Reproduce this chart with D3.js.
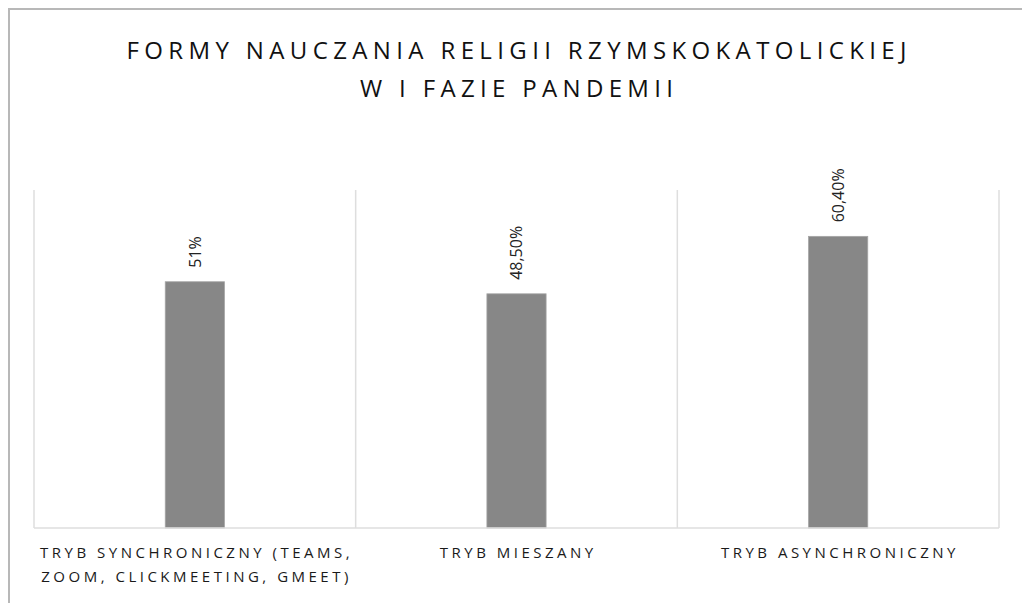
<!DOCTYPE html>
<html>
<head>
<meta charset="utf-8">
<script src="https://cdn.jsdelivr.net/npm/d3@7"></script>
<style>
  body { margin: 0; background: #fff; }
  svg { display: block; font-family: "Open Sans", sans-serif; }
</style>
</head>
<body>
<svg id="chart" width="1022" height="603"></svg>
<script>
// data
var categories = ["sync", "mixed", "async"];
var categoryLines = [
	["TRYB SYNCHRONICZNY (TEAMS,", "ZOOM, CLICKMEETING, GMEET)"],
	["TRYB MIESZANY"],
	["TRYB ASYNCHRONICZNY"]
];
var values = [51, 48.5, 60.4];
var valueLabels = ["51%", "48,50%", "60,40%"];
var titleLines = ["FORMY NAUCZANIA RELIGII RZYMSKOKATOLICKIEJ", "W I FAZIE PANDEMII"];

var svg = d3.select("#chart"),
	width = +svg.attr("width"),
	height = +svg.attr("height"),
	margin = {top: 190, right: 23, bottom: 75, left: 34},
	x = d3.scaleBand().domain(categories).range([margin.left, width - margin.right]).padding(0),
	y = d3.scaleLinear().domain([0, 70]).range([height - margin.bottom, margin.top]),
	barW = x.bandwidth() * 0.184;

// outer frame (only top and left edges visible)
svg.append("path")
	.attr("d", "M9,603V9H1022")
	.attr("fill", "none")
	.attr("stroke", "#b8b8b8")
	.attr("stroke-width", 2);

// title
svg.append("g").selectAll("text")
	.data(titleLines)
	.join("text")
		.attr("x", (margin.left + width - margin.right) / 2)
		.attr("y", function(d, i) { return 59 + i * 38; })
		.attr("text-anchor", "middle")
		.attr("font-size", 24)
		.attr("fill", "#111")
		.attr("textLength", function(d, i) { return i === 0 ? 780 : 313; })
		.attr("lengthAdjust", "spacing")
		.text(function(d) { return d; });

// vertical gridlines at category boundaries
var bounds = categories.map(function(c) { return x(c); }).concat([x(categories[categories.length - 1]) + x.bandwidth()]);
svg.append("g").selectAll("line")
	.data(bounds)
	.join("line")
		.attr("x1", function(d) { return d; })
		.attr("x2", function(d) { return d; })
		.attr("y1", y(70))
		.attr("y2", y(0))
		.attr("stroke", "#dedede")
		.attr("stroke-width", 1.5);

// bars
svg.append("g").selectAll("rect")
	.data(values)
	.join("rect")
		.attr("x", function(d, i) { return x(categories[i]) + x.bandwidth() / 2 - barW / 2; })
		.attr("y", function(d) { return y(d); })
		.attr("width", barW)
		.attr("height", function(d) { return y(0) - y(d); })
		.attr("fill", "#878787")
		.attr("stroke", "#a5a5a5")
		.attr("stroke-width", 0.8);

// baseline
svg.append("line")
	.attr("x1", bounds[0])
	.attr("x2", bounds[bounds.length - 1])
	.attr("y1", y(0))
	.attr("y2", y(0))
	.attr("stroke", "#dedede")
	.attr("stroke-width", 1.5);

// value labels, rotated
svg.append("g").selectAll("text")
	.data(values)
	.join("text")
		.attr("transform", function(d, i) {
			return "translate(" + (x(categories[i]) + x.bandwidth() / 2) + "," + (y(d) - 14) + ") rotate(-90)";
		})
		.attr("dy", "0.36em")
		.attr("font-size", 16)
		.attr("fill", "#222")
		.text(function(d, i) { return valueLabels[i]; });

// category labels
var cat = svg.append("g").selectAll("text")
	.data(categories)
	.join("text")
		.attr("text-anchor", "middle")
		.attr("font-size", 15)
		.attr("letter-spacing", 3.5)
		.attr("fill", "#1a1a1a");

cat.selectAll("tspan")
	.data(function(d, i) { return categoryLines[i].map(function(t) { return {t: t, c: d}; }); })
	.join("tspan")
		.attr("x", function(d) { return x(d.c) + x.bandwidth() / 2 + 1.75; })
		.attr("y", function(d, j) { return y(0) + 30 + j * 24; })
		.text(function(d) { return d.t; });
</script>
</body>
</html>
